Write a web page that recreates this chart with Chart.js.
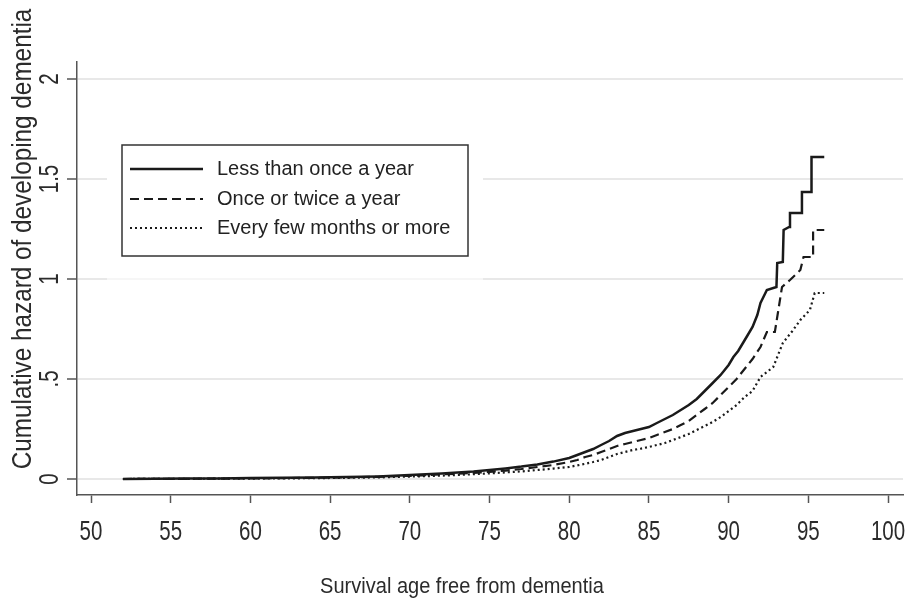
<!DOCTYPE html>
<html>
<head>
<meta charset="utf-8">
<style>
  html, body { margin: 0; padding: 0; background: #fff; }
  canvas { display: block; }
</style>
<script src="https://cdn.jsdelivr.net/npm/chart.js@4.4.1/dist/chart.umd.min.js"></script>
</head>
<body>
<canvas id="chart" width="910" height="599"></canvas>
<script>
// Series labels
const seriesNames = ['Less than once a year', 'Once or twice a year', 'Every few months or more'];

// Less than once a year (solid); repeated ages mark the visible jumps at the end
const agesLess = [52, 56, 58, 60, 62, 64, 66, 68, 69, 70, 71, 72, 73, 74, 75, 76, 77, 78, 79, 80,
    80.5, 81, 81.5, 82, 82.5, 83, 83.5, 84, 84.5, 85, 85.5, 86, 86.5, 87, 87.5, 88, 88.5, 89, 89.5,
    90, 90.3, 90.6, 90.9, 91.2, 91.5, 91.8, 92.0, 92.4, 93.0, 93.05, 93.4, 93.45, 93.8, 93.85, 94.55, 94.6,
    95.2, 95.2, 96.0];
const hazLess = [0, 0.002, 0.003, 0.005, 0.006, 0.008, 0.01, 0.013, 0.016, 0.02, 0.024, 0.028, 0.033, 0.038, 0.045, 0.053, 0.062, 0.073, 0.087, 0.105,
    0.12, 0.135, 0.15, 0.17, 0.19, 0.215, 0.23, 0.24, 0.25, 0.26, 0.28, 0.30, 0.32, 0.345, 0.37, 0.40, 0.44, 0.48, 0.52,
    0.57, 0.61, 0.64, 0.68, 0.72, 0.76, 0.82, 0.88, 0.945, 0.96, 1.08, 1.085, 1.245, 1.26, 1.33, 1.33, 1.435,
    1.435, 1.61, 1.61];

// Once or twice a year (dashed)
const agesTwice = [52, 56, 60, 64, 66, 68, 70, 71, 72, 73, 74, 75, 76, 77, 78, 79, 80, 80.5, 81, 81.5,
    82, 82.5, 83, 83.5, 84, 84.5, 85, 85.5, 86, 86.5, 87, 87.5, 88, 88.5, 89, 89.5, 90, 90.5, 91, 91.5,
    92, 92.4, 92.9, 93.1, 93.35, 93.85, 94.5, 94.7, 95.3, 95.3, 96.0];
const hazTwice = [0, 0.001, 0.003, 0.006, 0.008, 0.011, 0.016, 0.019, 0.023, 0.027, 0.031, 0.036, 0.042, 0.05, 0.06, 0.07, 0.085, 0.095, 0.11, 0.12,
    0.135, 0.15, 0.165, 0.175, 0.185, 0.195, 0.205, 0.22, 0.235, 0.25, 0.27, 0.29, 0.32, 0.35, 0.38, 0.42, 0.46, 0.50, 0.55, 0.60,
    0.66, 0.735, 0.735, 0.835, 0.96, 0.995, 1.045, 1.11, 1.11, 1.245, 1.245];

// Every few months or more (dotted)
const agesOften = [52, 56, 60, 64, 66, 68, 70, 71, 72, 73, 74, 75, 76, 77, 78, 79, 80, 80.5, 81, 81.5,
    82, 82.5, 83, 83.5, 84, 84.5, 85, 85.5, 86, 86.5, 87, 87.5, 88, 88.5, 89, 89.5, 90, 90.5, 91, 91.5,
    92, 92.8, 93.4, 94.0, 94.5, 95.1, 95.4, 96.0];
const hazOften = [0, 0.001, 0.002, 0.004, 0.006, 0.008, 0.012, 0.014, 0.017, 0.02, 0.024, 0.028, 0.033, 0.038, 0.045, 0.052, 0.06, 0.068, 0.076, 0.085,
    0.095, 0.11, 0.125, 0.135, 0.145, 0.152, 0.16, 0.17, 0.18, 0.195, 0.21, 0.225, 0.245, 0.265, 0.285, 0.31, 0.34, 0.37, 0.41, 0.44,
    0.51, 0.56, 0.68, 0.74, 0.795, 0.845, 0.93, 0.93];

// Axis ticks
const xTicks = [50, 55, 60, 65, 70, 75, 80, 85, 90, 95, 100];
const yTicks = [0, 0.5, 1, 1.5, 2];
const yTickLabels = ['0', '.5', '1', '1.5', '2'];
const xTitle = 'Survival age free from dementia';
const yTitle = 'Cumulative hazard of developing dementia';

const FONT = "'Liberation Sans', Arial, sans-serif";
const axisColor = '#555';
const textColor = '#2b2b2b';

function toPoints(xs, ys) {
    return xs.map((x, i) => ({ x: x, y: ys[i] }));
}

// draws text, squeezed along its own direction (the source font is condensed)
function drawText(ctx, text, x, y, size, squeeze, rotation, align, baseline) {
    ctx.save();
    ctx.translate(x, y);
    ctx.rotate(rotation);
    ctx.scale(squeeze, 1);
    ctx.font = size + 'px ' + FONT;
    ctx.fillStyle = textColor;
    ctx.textAlign = align;
    ctx.textBaseline = baseline;
    ctx.fillText(text, 0, 0);
    ctx.restore();
}

const textPlugin = {
    id: 'stataText',
    afterDraw(chart) {
        const ctx = chart.ctx;
        const xs = chart.scales.x;
        const ys = chart.scales.y;

        // x tick labels
        xTicks.forEach(v => {
            drawText(ctx, String(v), xs.getPixelForValue(v), 540, 27, 0.76, 0, 'center', 'alphabetic');
        });
        // y tick labels (rotated)
        yTicks.forEach((v, i) => {
            drawText(ctx, yTickLabels[i], 58, ys.getPixelForValue(v), 27, 0.76, -Math.PI / 2, 'center', 'alphabetic');
        });
        // axis titles
        drawText(ctx, xTitle, 462, 593, 22, 0.91, 0, 'center', 'alphabetic');
        drawText(ctx, yTitle, 31, 239, 27, 0.9, -Math.PI / 2, 'center', 'alphabetic');

        // legend region (white, hides the grid behind it)
        ctx.save();
        ctx.fillStyle = '#fff';
        ctx.fillRect(107, 132, 376, 144);
        ctx.fillStyle = 'rgba(255,255,255,0.6)';
        ctx.fillRect(107, 276, 376, 6);
        ctx.strokeStyle = '#333';
        ctx.lineWidth = 1.5;
        ctx.strokeRect(122, 145, 346, 111);

        const rowY = [169, 199, 228];
        chart.data.datasets.forEach((ds, i) => {
            ctx.beginPath();
            ctx.setLineDash(ds.borderDash || []);
            ctx.strokeStyle = ds.borderColor;
            ctx.lineWidth = ds.borderWidth;
            ctx.moveTo(130, rowY[i]);
            ctx.lineTo(203, rowY[i]);
            ctx.stroke();
            ctx.setLineDash([]);
            ctx.font = '20px ' + FONT;
            ctx.fillStyle = '#222';
            ctx.textAlign = 'left';
            ctx.textBaseline = 'middle';
            ctx.fillText(ds.label, 217, rowY[i]);
        });
        ctx.restore();
    }
};

const lineStyle = {
    borderColor: '#1a1a1a',
    pointRadius: 0,
    tension: 0,
    fill: false
};

new Chart(document.getElementById('chart'), {
    type: 'line',
    data: {
        datasets: [
            Object.assign({ label: seriesNames[0], data: toPoints(agesLess, hazLess), borderWidth: 2.5 }, lineStyle),
            Object.assign({ label: seriesNames[1], data: toPoints(agesTwice, hazTwice), borderWidth: 2.2, borderDash: [9, 5] }, lineStyle),
            Object.assign({ label: seriesNames[2], data: toPoints(agesOften, hazOften), borderWidth: 2.2, borderDash: [2, 3] }, lineStyle)
        ]
    },
    options: {
        responsive: false,
        animation: false,
        layout: { padding: { top: 62, right: 7, left: 0, bottom: 0 } },
        plugins: {
            legend: { display: false },
            tooltip: { enabled: false }
        },
        scales: {
            x: {
                type: 'linear',
                min: 49.12,
                max: 100.94,
                afterBuildTicks: s => { s.ticks = xTicks.map(v => ({ value: v })); },
                afterFit: s => { s.height = 104; },
                ticks: { display: false },
                grid: { drawOnChartArea: false, drawTicks: true, tickLength: 8, tickColor: axisColor, tickWidth: 1.5 },
                border: { color: axisColor, width: 1.5 }
            },
            y: {
                type: 'linear',
                min: -0.08,
                max: 2.085,
                afterBuildTicks: s => { s.ticks = yTicks.map(v => ({ value: v })); },
                afterFit: s => { s.width = 77; },
                ticks: { display: false },
                grid: { color: '#e8e8e8', lineWidth: 2, drawTicks: true, tickLength: 10, tickColor: axisColor, tickWidth: 1.5 },
                border: { color: axisColor, width: 1.5 }
            }
        }
    },
    plugins: [textPlugin]
});
</script>
</body>
</html>
